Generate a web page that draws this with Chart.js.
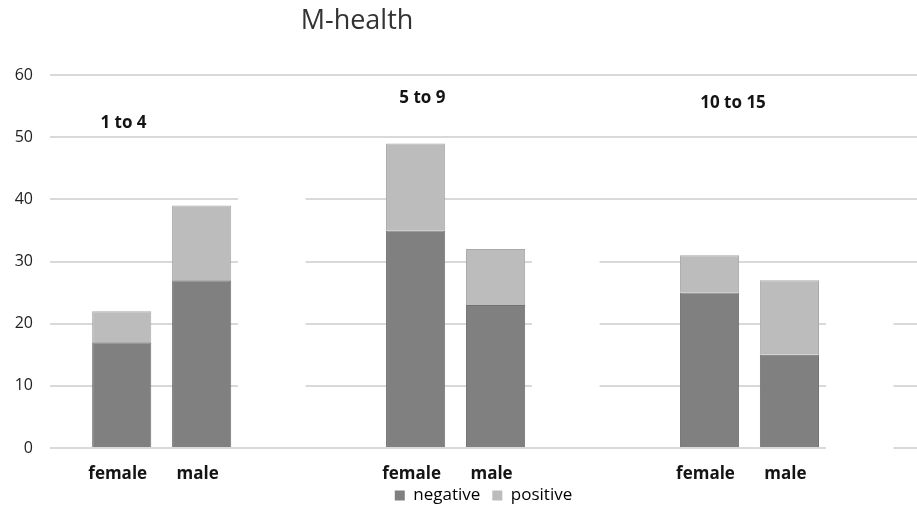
<!DOCTYPE html>
<html>
<head>
<meta charset="utf-8">
<script src="https://cdn.jsdelivr.net/npm/chart.js@4/dist/chart.umd.min.js"></script>
<style>
  html, body { margin: 0; padding: 0; background: #ffffff; }
  #wrap { width: 917px; height: 507px; }
</style>
</head>
<body>
<div id="wrap"><canvas id="c" width="917" height="507"></canvas></div>
<script>
// ---- data ----
const title = "M-health";
const ageGroups = ["1 to 4", "5 to 9", "10 to 15"];
const sexes = ["female", "male"];
const femaleNegative = [17, 35, 25];
const femalePositive = [5, 14, 6];
const maleNegative = [27, 23, 15];
const malePositive = [12, 9, 12];
const seriesNames = ["negative", "positive"];
const yTicks = [0, 10, 20, 30, 40, 50, 60];

// ---- style / layout (not data) ----
const FONT = "'Open Sans', 'DejaVu Sans', sans-serif";
const colNeg = "#808080", colPos = "#bcbcbc";
const groupLabelAnchor = [ {dx: -0.13, y: 52.3}, {dx: -0.113, y: 56.2}, {dx: -0.056, y: 55.4} ];
const gridGaps = [ {from: 0.26, to: 0.49, lo: 10, hi: 40}, {from: 0.26, to: 0.49, lo: 10, hi: 30}, {from: 0.26, to: 0.49, lo: 0, hi: 20} ];

const toXY = arr => arr.map((v, i) => ({x: i, y: v}));

const datasets = [
  {label: seriesNames[0], stack: sexes[0], data: toXY(femaleNegative), backgroundColor: colNeg, borderColor: "#727272"},
  {label: seriesNames[1], stack: sexes[0], data: toXY(femalePositive), backgroundColor: colPos, borderColor: "#a9a9a9"},
  {label: seriesNames[0], stack: sexes[1], data: toXY(maleNegative), backgroundColor: colNeg, borderColor: "#727272"},
  {label: seriesNames[1], stack: sexes[1], data: toXY(malePositive), backgroundColor: colPos, borderColor: "#a9a9a9"}
].map(d => Object.assign(d, {borderWidth: 1, categoryPercentage: 0.544, barPercentage: 0.74}));

const gapPlugin = {
  id: 'gridGaps',
  beforeDatasetsDraw(chart) {
    const ctx = chart.ctx, x = chart.scales.x, y = chart.scales.y;
    ctx.save();
    ctx.fillStyle = '#ffffff';
    gridGaps.forEach((g, i) => {
      const x0 = x.getPixelForValue(i + g.from), x1 = x.getPixelForValue(i + g.to);
      const y0 = y.getPixelForValue(g.hi) - 2, y1 = y.getPixelForValue(g.lo) + 2;
      ctx.fillRect(x0, y0, x1 - x0, y1 - y0);
    });
    ctx.restore();
  }
};

const textPlugin = {
  id: 'texts',
  afterDraw(chart) {
    const ctx = chart.ctx, x = chart.scales.x, y = chart.scales.y, area = chart.chartArea;
    ctx.save();
    // title
    ctx.font = "27px " + FONT;
    ctx.fillStyle = "#333333";
    ctx.textAlign = "center";
    ctx.textBaseline = "alphabetic";
    ctx.fillText(title, 357, 29);
    // age-group labels
    ctx.font = "bold 17px " + FONT;
    ctx.fillStyle = "#141414";
    ctx.textBaseline = "middle";
    ageGroups.forEach((g, i) => {
      const a = groupLabelAnchor[i];
      ctx.fillText(g, x.getPixelForValue(i + a.dx), y.getPixelForValue(a.y));
    });
    // sex labels under each bar
    ctx.textBaseline = "alphabetic";
    [0, 2].forEach((di, s) => {
      chart.getDatasetMeta(di).data.forEach(el => {
        ctx.fillText(sexes[s], el.x - 4, area.bottom + 31);
      });
    });
    ctx.restore();
  }
};

new Chart(document.getElementById('c'), {
  type: 'bar',
  data: { datasets },
  options: {
    responsive: false,
    animation: false,
    layout: { padding: { top: 75, left: 15, right: 0, bottom: -7 } },
    plugins: {
      title: { display: false },
      tooltip: { enabled: false },
      legend: {
        position: 'bottom',
        fullSize: false,
        labels: {
          boxWidth: 10, boxHeight: 10, padding: 12,
          color: '#1a1a1a',
          font: { family: FONT, size: 17 },
          filter: (item) => item.datasetIndex < 2,
          generateLabels: (chart) => chart.data.datasets.map((d, i) => ({
            text: d.label, fillStyle: d.backgroundColor, strokeStyle: d.backgroundColor,
            lineWidth: 0, datasetIndex: i, hidden: false
          }))
        }
      }
    },
    scales: {
      x: {
        type: 'linear',
        min: -0.38, max: 2.57,
        offset: false,
        afterBuildTicks: s => { s.ticks = ageGroups.map((g, i) => ({value: i})); },
        grid: { display: false },
        border: { display: false },
        ticks: { display: false },
        afterFit: s => { s.height = 27; }
      },
      y: {
        stacked: true,
        min: 0, max: 60,
        afterBuildTicks: s => { s.ticks = yTicks.map(v => ({value: v})); },
        grid: { color: '#d9d9d9', lineWidth: 2, drawTicks: false },
        border: { display: false },
        ticks: { padding: 17, color: '#222222', font: { family: FONT, size: 16 } },
        afterFit: s => { s.width = 35; }
      }
    }
  },
  plugins: [gapPlugin, textPlugin]
});
</script>
</body>
</html>
